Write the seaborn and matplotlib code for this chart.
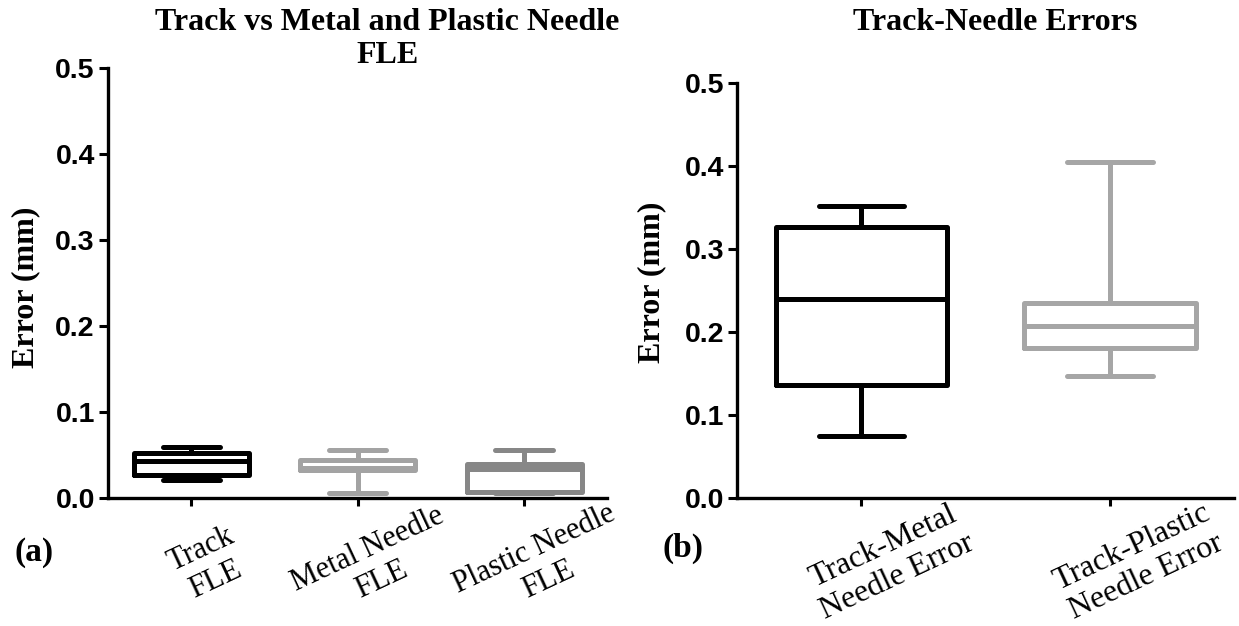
import seaborn as sns
import matplotlib
matplotlib.use("Agg")
import matplotlib.pyplot as plt
import matplotlib.transforms as mtransforms
import pandas as pd

# five-number summaries: min, q1, median, q3, max
FLE_GROUPS = ["Track\nFLE", "Metal Needle\nFLE", "Plastic Needle\nFLE"]
TRACK_FLE = [0.020, 0.026, 0.043, 0.052, 0.059]
METAL_FLE = [0.005, 0.032, 0.034, 0.044, 0.056]
PLASTIC_FLE = [0.006, 0.007, 0.033, 0.039, 0.055]
FLE_COLORS = ["#000000", "#a3a3a3", "#878787"]

ERR_GROUPS = ["Track-Metal\nNeedle Error", "Track-Plastic\nNeedle Error"]
METAL_ERR = [0.075, 0.136, 0.240, 0.326, 0.352]
PLASTIC_ERR = [0.147, 0.180, 0.207, 0.235, 0.405]
ERR_COLORS = ["#000000", "#a6a6a6"]

Y_TICKS = [0.0, 0.1, 0.2, 0.3, 0.4, 0.5]

SERIF = ["Liberation Serif", "DejaVu Serif"]
NARROW = ["Liberation Sans Narrow", "Liberation Sans", "DejaVu Sans"]

sns.set_style("ticks", {"axes.edgecolor": "black", "xtick.color": "black",
                        "ytick.color": "black", "text.color": "black",
                        "axes.labelcolor": "black"})


def _long_df(groups, series):
    rows = [(g, v) for g, vals in zip(groups, series) for v in vals]
    return pd.DataFrame(rows, columns=["group", "error"])


def plot_panel(ax, df, groups, colors, dx, dy, label_size):
    sns.boxplot(
        data=df,
        x="group",
        y="error",
        hue="group",
        order=groups,
        hue_order=groups,
        palette=dict(zip(groups, colors)),
        fill=False,
        width=0.69,
        whis=(0, 100),
        linewidth=3.6,
        legend=False,
        ax=ax,
    )
    for line in ax.lines:
        line.set_solid_joinstyle("round")
    ax.set_ylim(0, 0.5)
    ax.set_xlim(-0.5, len(groups) - 0.5)
    ax.set_xlabel("")
    ax.set_ylabel("")
    sns.despine(ax=ax)
    for side in ["left", "bottom"]:
        ax.spines[side].set_linewidth(2.4)
    ax.tick_params(axis="y", length=6.5, width=2.2, pad=3)
    ax.tick_params(axis="x", length=6, width=2.2, pad=10)

    ax.set_yticks(Y_TICKS)
    ax.set_yticklabels([f"{t:.1f}" for t in Y_TICKS],
                       fontfamily=NARROW, fontweight="bold", fontsize=20.5)
    ax.set_xticks(range(len(groups)))
    ax.set_xticklabels(groups, fontfamily=SERIF, fontsize=label_size,
                       rotation=25, ha="center", va="top",
                       rotation_mode="anchor", linespacing=1.2)
    # nudge the rotated labels so they sit like the original
    offset = mtransforms.ScaledTranslation(dx / 100, -dy / 100,
                                           ax.figure.dpi_scale_trans)
    for lbl in ax.get_xticklabels():
        lbl.set_transform(lbl.get_transform() + offset)


if __name__ == "__main__":
    fig = plt.figure(figsize=(12.39, 6.26), dpi=100)
    ax1 = fig.add_axes([0.0872, 0.205, 0.403, 0.686])
    ax2 = fig.add_axes([0.595, 0.205, 0.401, 0.662])

    df_fle = _long_df(FLE_GROUPS, [TRACK_FLE, METAL_FLE, PLASTIC_FLE])
    df_err = _long_df(ERR_GROUPS, [METAL_ERR, PLASTIC_ERR])
    plot_panel(ax1, df_fle, FLE_GROUPS, FLE_COLORS, 4, 16, 22)
    plot_panel(ax2, df_err, ERR_GROUPS, ERR_COLORS, 16, 14, 23)

    fig.text(0.3125, 1 - 39 / 626, "Track vs Metal and Plastic Needle\nFLE",
             ha="center", va="center", fontfamily=SERIF, fontweight="bold",
             fontsize=23, linespacing=1.2)
    fig.text(0.803, 1 - 22 / 626, "Track-Needle Errors", ha="center",
             va="center", fontfamily=SERIF, fontweight="bold", fontsize=23)

    fig.text(26 / 1239, 1 - 287 / 626, "Error (mm)", rotation=90, ha="center",
             va="center", fontfamily=SERIF, fontweight="bold", fontsize=23)
    fig.text(652 / 1239, 1 - 282 / 626, "Error (mm)", rotation=90, ha="center",
             va="center", fontfamily=SERIF, fontweight="bold", fontsize=23)

    fig.text(15 / 1239, 1 - 553 / 626, "(a)", ha="left", va="center",
             fontfamily=SERIF, fontweight="bold", fontsize=24)
    fig.text(663 / 1239, 1 - 548 / 626, "(b)", ha="left", va="center",
             fontfamily=SERIF, fontweight="bold", fontsize=24)

    fig.savefig("out.png", dpi=100)
